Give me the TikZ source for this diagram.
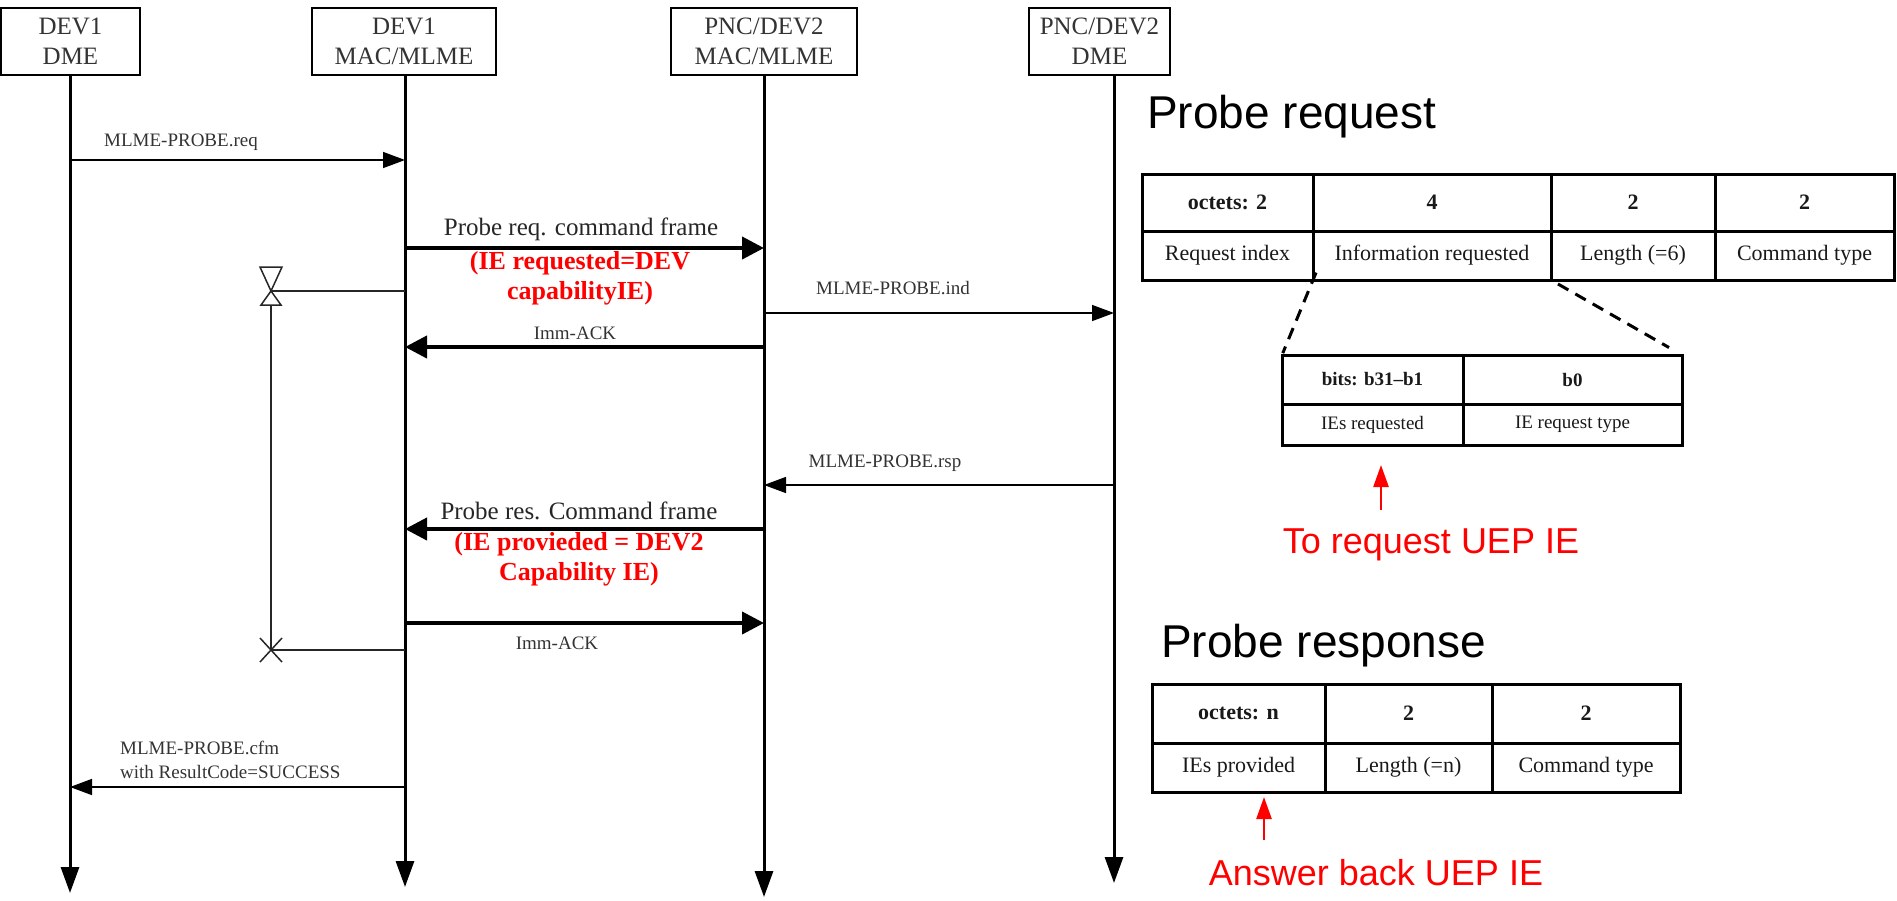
\documentclass[tikz,border=0pt]{standalone}
\usepackage{fontspec}
\setmainfont{Liberation Serif}
\newfontfamily\arialfont{Liberation Sans}
\usetikzlibrary{arrows.meta}

\tikzset{
  entity/.style={draw, line width=2pt, align=center, inner sep=0pt, text=black!80,
    font=\fontsize{25}{30}\selectfont},
  lifeline/.style={line width=3pt, -{Triangle[length=26pt,width=18pt]}},
  thinmsg/.style={line width=1.5pt, -{Triangle[length=22pt,width=16pt]}},
  thickmsg/.style={line width=4pt, -{Triangle[length=22pt,width=22pt]}},
  msglabel/.style={text=black!80, inner sep=0pt, font=\fontsize{19}{24}\selectfont},
  framelabel/.style={text=black!85, inner sep=0pt, font=\fontsize{25}{30}\selectfont},
  redlabel/.style={text=red, inner sep=0pt, align=center, font=\bfseries\fontsize{26}{30}\selectfont},
  timer/.style={line width=1.5pt, black!85},
  cell/.style={draw, line width=3pt, anchor=north west, inner sep=0pt, outer sep=0pt,
    text=black!90, font=\fontsize{22}{26}\selectfont},
  headcell/.style={cell, font=\bfseries\fontsize{22}{26}\selectfont},
  smallcell/.style={cell, font=\fontsize{19}{23}\selectfont},
  smallhead/.style={cell, font=\bfseries\fontsize{19}{23}\selectfont},
  zoomline/.style={line width=3pt, dash pattern=on 12pt off 8pt},
  title/.style={anchor=base west, inner sep=0pt, font=\arialfont\fontsize{46}{50}\selectfont},
  note/.style={anchor=base, inner sep=0pt, text=red, font=\arialfont\fontsize{36}{40}\selectfont},
  notearrow/.style={red, line width=2.5pt, -{Triangle[length=22pt,width=15pt]}}
}

\begin{document}
\begin{tikzpicture}[x=1pt, y=-1pt]
  \useasboundingbox (0,0) rectangle (1897,900);

  % Entities on top
  \node[entity, minimum width=139pt, minimum height=67pt] (dme1) at (70.5,41.5) {DEV1\\DME};
  \node[entity, minimum width=184pt, minimum height=67pt] (mac1) at (404,41.5) {DEV1\\MAC/MLME};
  \node[entity, minimum width=186pt, minimum height=67pt] (mac2) at (764,41.5) {PNC/DEV2\\MAC/MLME};
  \node[entity, minimum width=141pt, minimum height=67pt] (dme2) at (1099.5,41.5) {PNC/DEV2\\DME};

  % Lifelines
  \coordinate (l1) at (70,75);
  \coordinate (l2) at (405,75);
  \coordinate (l3) at (764,75);
  \coordinate (l4) at (1114,75);
  \draw[lifeline] (l1) -- (l1 |- 0,893);
  \draw[lifeline] (l2) -- (l2 |- 0,887);
  \draw[lifeline] (l3) -- (l3 |- 0,897);
  \draw[lifeline] (l4) -- (l4 |- 0,883);

  % MLME-PROBE.req
  \draw[thinmsg] (l1 |- 0,160) -- (l2 |- 0,160);
  \node[msglabel] (preq) at (181,142) {MLME-PROBE.req};

  % Probe request command frame
  \draw[thickmsg] (l2 |- 0,248) -- (l3 |- 0,248);
  \node[framelabel] (reqframe) at (581,229) {Probe req. command frame};
  \node[redlabel] (reqie) at (580,278) {(IE requested=DEV\\capabilityIE)};

  % Response timer
  \coordinate (tm) at (271,291);
  \coordinate (tx) at (271,650);
  \draw[timer] (l2 |- tm) -- (tm);
  \draw[timer] (260,267) -- (282,267) -- (tm) -- cycle;
  \draw[timer] (tm) -- (261,305) -- (281,305) -- cycle;
  \draw[timer] (tm |- 0,305) -- (tx);
  \draw[timer] (l2 |- tx) -- (tx);
  \draw[timer] ([shift={(-11,-12)}]tx) -- ([shift={(11,12)}]tx);
  \draw[timer] ([shift={(-11,12)}]tx) -- ([shift={(11,-12)}]tx);

  % MLME-PROBE.ind
  \draw[thinmsg] (l3 |- 0,313) -- (l4 |- 0,313);
  \node[msglabel] (pind) at (893,288) {MLME-PROBE.ind};

  % Imm-ACK back to DEV1
  \draw[thickmsg] (l3 |- 0,347) -- (l2 |- 0,347);
  \node[msglabel] (ack1) at (575,333) {Imm-ACK};

  % MLME-PROBE.rsp
  \draw[thinmsg] (l4 |- 0,485) -- (l3 |- 0,485);
  \node[msglabel] (prsp) at (885,463) {MLME-PROBE.rsp};

  % Probe response command frame
  \draw[thickmsg] (l3 |- 0,529) -- (l2 |- 0,529);
  \node[framelabel] (resframe) at (579,511) {Probe res. Command frame};
  \node[redlabel] (resie) at (579,559) {(IE provieded = DEV2\\Capability IE)};

  % Imm-ACK to PNC
  \draw[thickmsg] (l2 |- 0,623) -- (l3 |- 0,623);
  \node[msglabel] (ack2) at (557,643) {Imm-ACK};

  % MLME-PROBE.cfm
  \draw[thinmsg] (l2 |- 0,787) -- (l1 |- 0,787);
  \node[msglabel, anchor=west, align=left] (pcfm) at (120,760) {MLME-PROBE.cfm\\with ResultCode=SUCCESS};

  % Probe request frame format
  \node[title] (reqtitle) at (1147,128) {Probe request};
  \node[headcell, minimum width=171pt, minimum height=57pt] (rq1) at (1142,174) {octets: 2};
  \node[headcell, minimum width=238pt, minimum height=57pt] (rq2) at (rq1.north east) {4};
  \node[headcell, minimum width=164pt, minimum height=57pt] (rq3) at (rq2.north east) {2};
  \node[headcell, minimum width=179pt, minimum height=57pt] (rq4) at (rq3.north east) {2};
  \node[cell, minimum width=171pt, minimum height=49pt] (rqa) at (rq1.south west) {Request index};
  \node[cell, minimum width=238pt, minimum height=49pt] (rqb) at (rqa.north east) {Information requested};
  \node[cell, minimum width=164pt, minimum height=49pt] (rqc) at (rqb.north east) {Length (=6)};
  \node[cell, minimum width=179pt, minimum height=49pt] (rqd) at (rqc.north east) {Command type};

  % Information requested field
  \node[smallhead, minimum width=181pt, minimum height=49pt] (bt1) at (1282,355) {bits: b31--b1};
  \node[smallhead, minimum width=219pt, minimum height=49pt] (bt2) at (bt1.north east) {b0};
  \node[smallcell, minimum width=181pt, minimum height=41pt] (bta) at (bt1.south west) {IEs requested};
  \node[smallcell, minimum width=219pt, minimum height=41pt] (btb) at (bta.north east) {IE request type};
  \draw[zoomline, shorten <=-8pt, shorten >=2pt] (rqa.south east) -- (bt1.north west);
  \draw[zoomline, shorten <=8pt, shorten >=15pt] (rqb.south east) -- (bt2.north east);

  % Note on request
  \node[note] (note1) at (1431,553) {To request UEP IE};
  \coordinate (n1) at (1381,510);
  \draw[notearrow, shorten >=20pt] (n1) -- (n1 |- bta.south);

  % Probe response frame format
  \node[title] (restitle) at (1161,657) {Probe response};
  \node[headcell, minimum width=173pt, minimum height=59pt] (rs1) at (1152,684) {octets: n};
  \node[headcell, minimum width=167pt, minimum height=59pt] (rs2) at (rs1.north east) {2};
  \node[headcell, minimum width=188pt, minimum height=59pt] (rs3) at (rs2.north east) {2};
  \node[cell, minimum width=173pt, minimum height=49pt] (rsa) at (rs1.south west) {IEs provided};
  \node[cell, minimum width=167pt, minimum height=49pt] (rsb) at (rsa.north east) {Length (=n)};
  \node[cell, minimum width=188pt, minimum height=49pt] (rsc) at (rsb.north east) {Command type};

  % Note on response
  \node[note] (note2) at (1376,885) {Answer back UEP IE};
  \coordinate (n2) at (1264,840);
  \draw[notearrow, shorten >=5pt] (n2) -- (n2 |- rsa.south);
\end{tikzpicture}
\end{document}
